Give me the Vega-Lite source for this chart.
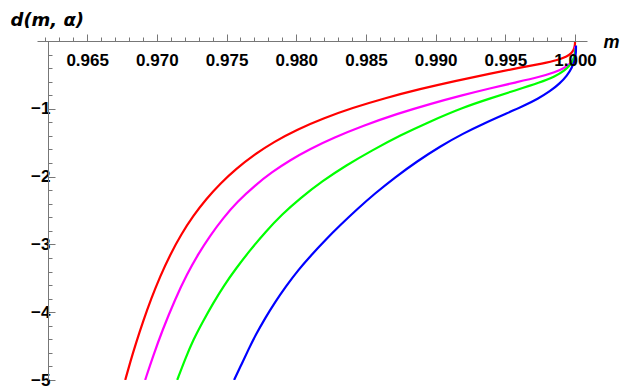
{
  "$schema": "https://vega.github.io/schema/vega-lite/v6.json",
  "autosize": {"type": "none"},
  "padding": {"left": 37, "top": 41, "right": 45, "bottom": 9},
  "width": 550,
  "height": 339,
  "background": "white",
  "config": {"view": {"stroke": null}},
  "data": {"values": [
    {"s": "s4", "i": 1, "m": 0.96773, "d": -5.000},
    {"s": "s4", "i": 2, "m": 0.96808, "d": -4.742},
    {"s": "s4", "i": 3, "m": 0.96851, "d": -4.451},
    {"s": "s4", "i": 4, "m": 0.96902, "d": -4.131},
    {"s": "s4", "i": 5, "m": 0.96959, "d": -3.801},
    {"s": "s4", "i": 6, "m": 0.97024, "d": -3.468},
    {"s": "s4", "i": 7, "m": 0.97095, "d": -3.152},
    {"s": "s4", "i": 8, "m": 0.97174, "d": -2.853},
    {"s": "s4", "i": 9, "m": 0.97260, "d": -2.579},
    {"s": "s4", "i": 10, "m": 0.97354, "d": -2.330},
    {"s": "s4", "i": 11, "m": 0.97454, "d": -2.103},
    {"s": "s4", "i": 12, "m": 0.97569, "d": -1.884},
    {"s": "s4", "i": 13, "m": 0.97698, "d": -1.677},
    {"s": "s4", "i": 14, "m": 0.97841, "d": -1.486},
    {"s": "s4", "i": 15, "m": 0.98006, "d": -1.306},
    {"s": "s4", "i": 16, "m": 0.98193, "d": -1.141},
    {"s": "s4", "i": 17, "m": 0.98401, "d": -0.988},
    {"s": "s4", "i": 18, "m": 0.98637, "d": -0.842},
    {"s": "s4", "i": 19, "m": 0.98888, "d": -0.708},
    {"s": "s4", "i": 20, "m": 0.99139, "d": -0.589},
    {"s": "s4", "i": 21, "m": 0.99390, "d": -0.482},
    {"s": "s4", "i": 22, "m": 0.99606, "d": -0.393},
    {"s": "s4", "i": 23, "m": 0.99771, "d": -0.331},
    {"s": "s4", "i": 24, "m": 0.99878, "d": -0.280},
    {"s": "s4", "i": 25, "m": 0.99943, "d": -0.228},
    {"s": "s4", "i": 26, "m": 0.99978, "d": -0.177},
    {"s": "s4", "i": 27, "m": 0.99996, "d": -0.110},
    {"s": "s4", "i": 28, "m": 1.00000, "d": -0.037},
    {"s": "s4", "i": 29, "m": 1.00000, "d": -0.015},

    {"s": "s3", "i": 1, "m": 0.96916, "d": -5.000},
    {"s": "s3", "i": 2, "m": 0.96973, "d": -4.647},
    {"s": "s3", "i": 3, "m": 0.97038, "d": -4.275},
    {"s": "s3", "i": 4, "m": 0.97131, "d": -3.807},
    {"s": "s3", "i": 5, "m": 0.97217, "d": -3.436},
    {"s": "s3", "i": 6, "m": 0.97296, "d": -3.144},
    {"s": "s3", "i": 7, "m": 0.97382, "d": -2.870},
    {"s": "s3", "i": 8, "m": 0.97475, "d": -2.613},
    {"s": "s3", "i": 9, "m": 0.97576, "d": -2.371},
    {"s": "s3", "i": 10, "m": 0.97705, "d": -2.128},
    {"s": "s3", "i": 11, "m": 0.97827, "d": -1.932},
    {"s": "s3", "i": 12, "m": 0.97956, "d": -1.757},
    {"s": "s3", "i": 13, "m": 0.98099, "d": -1.592},
    {"s": "s3", "i": 14, "m": 0.98264, "d": -1.430},
    {"s": "s3", "i": 15, "m": 0.98480, "d": -1.249},
    {"s": "s3", "i": 16, "m": 0.98723, "d": -1.074},
    {"s": "s3", "i": 17, "m": 0.98960, "d": -0.928},
    {"s": "s3", "i": 18, "m": 0.99197, "d": -0.797},
    {"s": "s3", "i": 19, "m": 0.99390, "d": -0.698},
    {"s": "s3", "i": 20, "m": 0.99570, "d": -0.613},
    {"s": "s3", "i": 21, "m": 0.99749, "d": -0.529},
    {"s": "s3", "i": 22, "m": 0.99857, "d": -0.462},
    {"s": "s3", "i": 23, "m": 0.99928, "d": -0.396},
    {"s": "s3", "i": 24, "m": 0.99971, "d": -0.325},
    {"s": "s3", "i": 25, "m": 0.99993, "d": -0.255},
    {"s": "s3", "i": 26, "m": 1.00000, "d": -0.169},
    {"s": "s3", "i": 27, "m": 1.00000, "d": -0.081},

    {"s": "s2", "i": 1, "m": 0.97146, "d": -5.000},
    {"s": "s2", "i": 2, "m": 0.97203, "d": -4.691},
    {"s": "s2", "i": 3, "m": 0.97260, "d": -4.411},
    {"s": "s2", "i": 4, "m": 0.97332, "d": -4.131},
    {"s": "s2", "i": 5, "m": 0.97404, "d": -3.866},
    {"s": "s2", "i": 6, "m": 0.97483, "d": -3.601},
    {"s": "s2", "i": 7, "m": 0.97569, "d": -3.351},
    {"s": "s2", "i": 8, "m": 0.97669, "d": -3.085},
    {"s": "s2", "i": 9, "m": 0.97777, "d": -2.820},
    {"s": "s2", "i": 10, "m": 0.97899, "d": -2.555},
    {"s": "s2", "i": 11, "m": 0.98028, "d": -2.320},
    {"s": "s2", "i": 12, "m": 0.98185, "d": -2.069},
    {"s": "s2", "i": 13, "m": 0.98358, "d": -1.834},
    {"s": "s2", "i": 14, "m": 0.98544, "d": -1.613},
    {"s": "s2", "i": 15, "m": 0.98745, "d": -1.392},
    {"s": "s2", "i": 16, "m": 0.98960, "d": -1.186},
    {"s": "s2", "i": 17, "m": 0.99197, "d": -0.979},
    {"s": "s2", "i": 18, "m": 0.99390, "d": -0.847},
    {"s": "s2", "i": 19, "m": 0.99570, "d": -0.729},
    {"s": "s2", "i": 20, "m": 0.99749, "d": -0.611},
    {"s": "s2", "i": 21, "m": 0.99857, "d": -0.523},
    {"s": "s2", "i": 22, "m": 0.99928, "d": -0.434},
    {"s": "s2", "i": 23, "m": 0.99971, "d": -0.346},
    {"s": "s2", "i": 24, "m": 0.99993, "d": -0.258},
    {"s": "s2", "i": 25, "m": 1.00000, "d": -0.184},
    {"s": "s2", "i": 26, "m": 1.00004, "d": -0.110},

    {"s": "s1", "i": 1, "m": 0.97554, "d": -5.000},
    {"s": "s1", "i": 2, "m": 0.97605, "d": -4.779},
    {"s": "s1", "i": 3, "m": 0.97655, "d": -4.558},
    {"s": "s1", "i": 4, "m": 0.97712, "d": -4.323},
    {"s": "s1", "i": 5, "m": 0.97777, "d": -4.087},
    {"s": "s1", "i": 6, "m": 0.97848, "d": -3.851},
    {"s": "s1", "i": 7, "m": 0.97927, "d": -3.616},
    {"s": "s1", "i": 8, "m": 0.98013, "d": -3.380},
    {"s": "s1", "i": 9, "m": 0.98107, "d": -3.159},
    {"s": "s1", "i": 10, "m": 0.98207, "d": -2.938},
    {"s": "s1", "i": 11, "m": 0.98315, "d": -2.717},
    {"s": "s1", "i": 12, "m": 0.98436, "d": -2.482},
    {"s": "s1", "i": 13, "m": 0.98566, "d": -2.246},
    {"s": "s1", "i": 14, "m": 0.98709, "d": -2.010},
    {"s": "s1", "i": 15, "m": 0.98867, "d": -1.775},
    {"s": "s1", "i": 16, "m": 0.99032, "d": -1.554},
    {"s": "s1", "i": 17, "m": 0.99197, "d": -1.364},
    {"s": "s1", "i": 18, "m": 0.99355, "d": -1.208},
    {"s": "s1", "i": 19, "m": 0.99498, "d": -1.078},
    {"s": "s1", "i": 20, "m": 0.99627, "d": -0.962},
    {"s": "s1", "i": 21, "m": 0.99735, "d": -0.851},
    {"s": "s1", "i": 22, "m": 0.99821, "d": -0.742},
    {"s": "s1", "i": 23, "m": 0.99892, "d": -0.624},
    {"s": "s1", "i": 24, "m": 0.99943, "d": -0.511},
    {"s": "s1", "i": 25, "m": 0.99978, "d": -0.393},
    {"s": "s1", "i": 26, "m": 1.00000, "d": -0.278},
    {"s": "s1", "i": 27, "m": 1.00007, "d": -0.169},
    {"s": "s1", "i": 28, "m": 1.00007, "d": -0.066}
  ]},
  "mark": {"type": "line", "strokeWidth": 2.2, "interpolate": "basis", "clip": true},
  "encoding": {
    "x": {
      "field": "m", "type": "quantitative",
      "scale": {"domain": [0.9614, 1.00086], "nice": false, "zero": false},
      "axis": {
        "orient": "top",
        "zindex": 1,
        "title": "m",
        "titleFont": "Liberation Sans", "titleFontSize": 18, "titleFontWeight": "bold", "titleFontStyle": "italic",
        "titleColor": "black",
        "titleAngle": 0, "titleAlign": "center", "titleBaseline": "middle",
        "titleX": 574, "titleY": 1,
        "values": [0.962,0.963,0.964,0.965,0.966,0.967,0.968,0.969,0.970,0.971,0.972,0.973,0.974,0.975,0.976,0.977,0.978,0.979,0.980,0.981,0.982,0.983,0.984,0.985,0.986,0.987,0.988,0.989,0.990,0.991,0.992,0.993,0.994,0.995,0.996,0.997,0.998,0.999,1.0],
        "labelExpr": "round(datum.value*1000) % 5 == 0 ? format(datum.value, '.3f') : ''",
        "labelFont": "Liberation Sans", "labelFontSize": 17, "labelFontWeight": "bold", "labelColor": "black",
        "labelBaseline": "top", "labelPadding": -18, "labelFlush": false, "labelOverlap": false,
        "tickSize": {"condition": {"test": "round(datum.value*1000) % 5 == 0", "value": 7}, "value": 4},
        "tickColor": "#777777", "domainColor": "#777777", "tickWidth": 1, "domainWidth": 1,
        "grid": false
      }
    },
    "y": {
      "field": "d", "type": "quantitative",
      "scale": {"domain": [-5, 0], "nice": false, "zero": false},
      "axis": {
        "orient": "left",
        "offset": -11,
        "title": "d(m, α)",
        "titleFont": "DejaVu Sans", "titleFontSize": 18, "titleFontWeight": "bold", "titleFontStyle": "italic",
        "titleColor": "black",
        "titleAngle": 0, "titleAlign": "left", "titleBaseline": "middle",
        "titleX": -38, "titleY": -21,
        "values": [-5,-4.8,-4.6,-4.4,-4.2,-4,-3.8,-3.6,-3.4,-3.2,-3,-2.8,-2.6,-2.4,-2.2,-2,-1.8,-1.6,-1.4,-1.2,-1,-0.8,-0.6,-0.4,-0.2],
        "labelExpr": "abs(datum.value - round(datum.value)) < 0.01 ? format(datum.value, 'd') : ''",
        "labelFont": "Liberation Sans", "labelFontSize": 17, "labelFontWeight": "bold", "labelColor": "black",
        "labelBaseline": "middle", "labelPadding": 5, "labelFlush": false, "labelOverlap": false,
        "tickSize": {"condition": {"test": "abs(datum.value - round(datum.value)) < 0.01", "value": -7}, "value": -4},
        "tickColor": "#777777", "domainColor": "#777777", "tickWidth": 1, "domainWidth": 1,
        "grid": false
      }
    },
    "color": {
      "field": "s", "type": "nominal",
      "scale": {"domain": ["s1", "s2", "s3", "s4"], "range": ["#0000FF", "#00FF00", "#FF00FF", "#FF0000"]},
      "legend": null
    },
    "order": {"field": "i", "type": "quantitative"}
  }
}
